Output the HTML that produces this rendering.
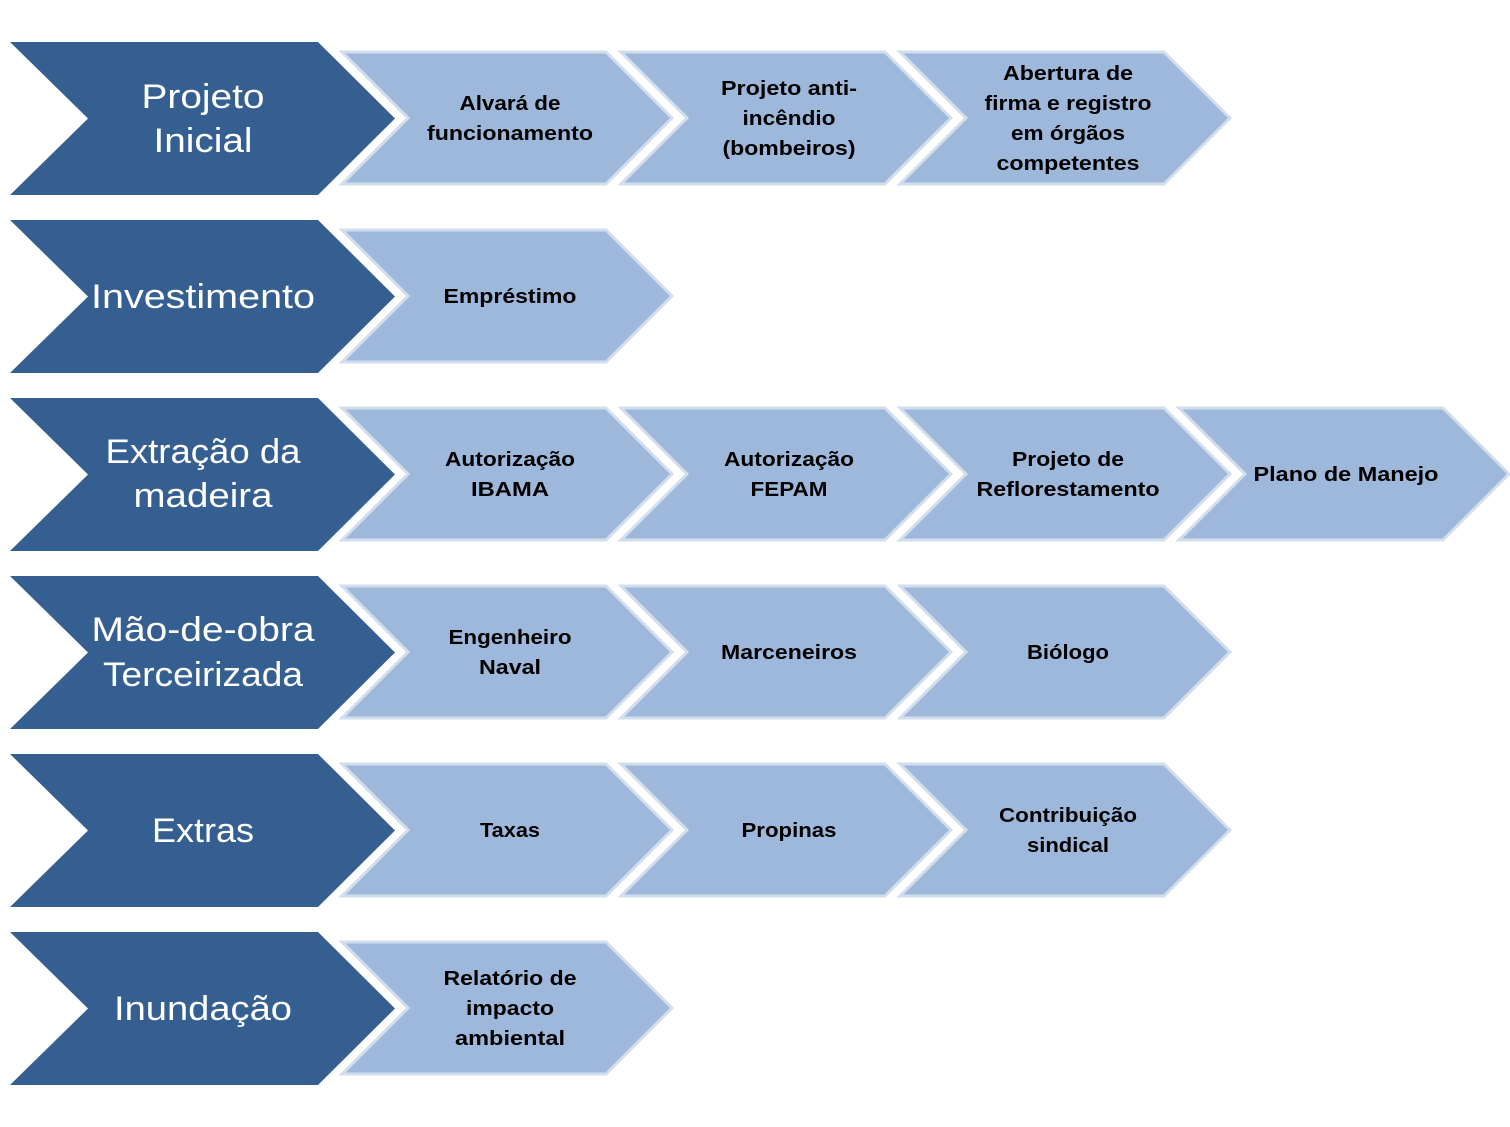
<!DOCTYPE html>
<html><head><meta charset="utf-8"><style>
html,body{margin:0;padding:0;background:#fff;}
svg{display:block;}
.d{fill:#365f91;}
.l{fill:#9db8da;stroke:#d3deed;stroke-width:3;}
.dt{font-family:"Liberation Sans",sans-serif;font-size:34px;fill:#fff;text-anchor:middle;dominant-baseline:central;}
.lt{font-family:"Liberation Sans",sans-serif;font-weight:bold;font-size:20px;fill:#000;text-anchor:middle;dominant-baseline:central;}
</style></head><body>
<svg width="1510" height="1127" viewBox="0 0 1510 1127" xmlns="http://www.w3.org/2000/svg">
<defs>
<polygon id="dk" points="10,42 318,42 395,118.5 318,195 10,195 88,118.5"/>
<polygon id="lc" points="342,52 606,52 672,118 606,184 342,184 408,118"/>
</defs>
<!-- row 0 -->
<g>
<use href="#dk" class="d"/>
<use href="#lc" class="l"/><use href="#lc" class="l" x="279"/><use href="#lc" class="l" x="558"/>
<text class="dt" x="203" y="97" textLength="123" lengthAdjust="spacingAndGlyphs">Projeto</text>
<text class="dt" x="203" y="141" textLength="99" lengthAdjust="spacingAndGlyphs">Inicial</text>
<text class="lt" x="510" y="104" textLength="101" lengthAdjust="spacingAndGlyphs">Alvará de</text>
<text class="lt" x="510" y="134" textLength="166" lengthAdjust="spacingAndGlyphs">funcionamento</text>
<text class="lt" x="789" y="89" textLength="136" lengthAdjust="spacingAndGlyphs">Projeto anti-</text>
<text class="lt" x="789" y="119" textLength="93" lengthAdjust="spacingAndGlyphs">incêndio</text>
<text class="lt" x="789" y="149" textLength="133" lengthAdjust="spacingAndGlyphs">(bombeiros)</text>
<text class="lt" x="1068" y="74" textLength="130" lengthAdjust="spacingAndGlyphs">Abertura de</text>
<text class="lt" x="1068" y="104" textLength="167" lengthAdjust="spacingAndGlyphs">firma e registro</text>
<text class="lt" x="1068" y="134" textLength="114" lengthAdjust="spacingAndGlyphs">em órgãos</text>
<text class="lt" x="1068" y="164" textLength="143" lengthAdjust="spacingAndGlyphs">competentes</text>
</g>
<!-- row 1 -->
<g transform="translate(0,178)">
<use href="#dk" class="d"/>
<use href="#lc" class="l"/>
<text class="dt" x="203" y="119" textLength="224" lengthAdjust="spacingAndGlyphs">Investimento</text>
<text class="lt" x="510" y="119" textLength="133" lengthAdjust="spacingAndGlyphs">Empréstimo</text>
</g>
<!-- row 2 -->
<g transform="translate(0,356)">
<use href="#dk" class="d"/>
<use href="#lc" class="l"/><use href="#lc" class="l" x="279"/><use href="#lc" class="l" x="558"/><use href="#lc" class="l" x="837"/>
<text class="dt" x="203" y="96" textLength="195" lengthAdjust="spacingAndGlyphs">Extração da</text>
<text class="dt" x="203" y="140" textLength="139" lengthAdjust="spacingAndGlyphs">madeira</text>
<text class="lt" x="510" y="104" textLength="130" lengthAdjust="spacingAndGlyphs">Autorização</text>
<text class="lt" x="510" y="134" textLength="78" lengthAdjust="spacingAndGlyphs">IBAMA</text>
<text class="lt" x="789" y="104" textLength="130" lengthAdjust="spacingAndGlyphs">Autorização</text>
<text class="lt" x="789" y="134" textLength="77" lengthAdjust="spacingAndGlyphs">FEPAM</text>
<text class="lt" x="1068" y="104" textLength="112" lengthAdjust="spacingAndGlyphs">Projeto de</text>
<text class="lt" x="1068" y="134" textLength="183" lengthAdjust="spacingAndGlyphs">Reflorestamento</text>
<text class="lt" x="1346" y="119" textLength="185" lengthAdjust="spacingAndGlyphs">Plano de Manejo</text>
</g>
<!-- row 3 -->
<g transform="translate(0,534)">
<use href="#dk" class="d"/>
<use href="#lc" class="l"/><use href="#lc" class="l" x="279"/><use href="#lc" class="l" x="558"/>
<text class="dt" x="203" y="96" textLength="223" lengthAdjust="spacingAndGlyphs">Mão-de-obra</text>
<text class="dt" x="203" y="141" textLength="200" lengthAdjust="spacingAndGlyphs">Terceirizada</text>
<text class="lt" x="510" y="104" textLength="123" lengthAdjust="spacingAndGlyphs">Engenheiro</text>
<text class="lt" x="510" y="134" textLength="62" lengthAdjust="spacingAndGlyphs">Naval</text>
<text class="lt" x="789" y="119" textLength="136" lengthAdjust="spacingAndGlyphs">Marceneiros</text>
<text class="lt" x="1068" y="119" textLength="82" lengthAdjust="spacingAndGlyphs">Biólogo</text>
</g>
<!-- row 4 -->
<g transform="translate(0,712)">
<use href="#dk" class="d"/>
<use href="#lc" class="l"/><use href="#lc" class="l" x="279"/><use href="#lc" class="l" x="558"/>
<text class="dt" x="203" y="119" textLength="102" lengthAdjust="spacingAndGlyphs">Extras</text>
<text class="lt" x="510" y="119" textLength="60" lengthAdjust="spacingAndGlyphs">Taxas</text>
<text class="lt" x="789" y="119" textLength="95" lengthAdjust="spacingAndGlyphs">Propinas</text>
<text class="lt" x="1068" y="104" textLength="138" lengthAdjust="spacingAndGlyphs">Contribuição</text>
<text class="lt" x="1068" y="134" textLength="82" lengthAdjust="spacingAndGlyphs">sindical</text>
</g>
<!-- row 5 -->
<g transform="translate(0,890)">
<use href="#dk" class="d"/>
<use href="#lc" class="l"/>
<text class="dt" x="203" y="119" textLength="178" lengthAdjust="spacingAndGlyphs">Inundação</text>
<text class="lt" x="510" y="89" textLength="133" lengthAdjust="spacingAndGlyphs">Relatório de</text>
<text class="lt" x="510" y="119" textLength="88" lengthAdjust="spacingAndGlyphs">impacto</text>
<text class="lt" x="510" y="149" textLength="110" lengthAdjust="spacingAndGlyphs">ambiental</text>
</g>
</svg>
</body></html>
